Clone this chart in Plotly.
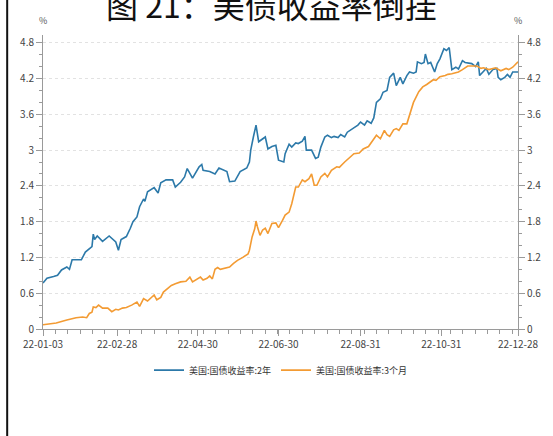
import plotly.graph_objects as go

# US Treasury yields, 2022 (%)
two_year_dates = [
    "2022-01-03", "2022-01-06", "2022-01-11", "2022-01-14", "2022-01-17", "2022-01-21", "2022-01-23",
    "2022-01-25", "2022-02-01", "2022-02-04", "2022-02-09", "2022-02-10", "2022-02-11", "2022-02-13",
    "2022-02-17", "2022-02-22", "2022-02-27", "2022-03-01", "2022-03-03", "2022-03-07", "2022-03-10",
    "2022-03-12", "2022-03-15", "2022-03-17", "2022-03-20", "2022-03-21", "2022-03-23", "2022-03-28",
    "2022-03-31", "2022-04-02", "2022-04-06", "2022-04-11", "2022-04-13", "2022-04-17", "2022-04-20",
    "2022-04-22", "2022-04-26", "2022-05-01", "2022-05-03", "2022-05-04", "2022-05-09", "2022-05-13",
    "2022-05-16", "2022-05-22", "2022-05-24", "2022-05-28", "2022-06-01", "2022-06-06", "2022-06-08",
    "2022-06-09", "2022-06-11", "2022-06-13", "2022-06-15", "2022-06-20", "2022-06-22", "2022-06-25",
    "2022-06-28", "2022-06-30", "2022-07-04", "2022-07-05", "2022-07-08", "2022-07-10", "2022-07-13",
    "2022-07-15", "2022-07-18", "2022-07-20", "2022-07-21", "2022-07-25", "2022-07-28", "2022-07-30",
    "2022-08-01", "2022-08-04", "2022-08-06", "2022-08-09", "2022-08-11", "2022-08-14", "2022-08-16",
    "2022-08-19", "2022-08-21", "2022-08-24", "2022-08-26", "2022-08-29", "2022-08-31", "2022-09-03",
    "2022-09-05", "2022-09-08", "2022-09-10", "2022-09-12", "2022-09-15", "2022-09-17", "2022-09-20",
    "2022-09-22", "2022-09-25", "2022-09-27", "2022-09-30", "2022-10-02", "2022-10-05", "2022-10-07",
    "2022-10-10", "2022-10-12", "2022-10-13", "2022-10-16", "2022-10-18", "2022-10-19", "2022-10-21",
    "2022-10-23", "2022-10-26", "2022-10-28", "2022-10-30", "2022-11-02", "2022-11-04", "2022-11-06",
    "2022-11-08", "2022-11-11", "2022-11-13", "2022-11-16", "2022-11-18", "2022-11-21", "2022-11-23",
    "2022-11-26", "2022-11-28", "2022-11-29", "2022-12-02", "2022-12-04", "2022-12-06", "2022-12-09",
    "2022-12-12", "2022-12-13", "2022-12-15", "2022-12-18", "2022-12-20", "2022-12-22", "2022-12-24",
    "2022-12-28",
]
two_year_values = [
    0.77, 0.85, 0.88, 0.90, 0.99, 1.04, 1.00,
    1.16, 1.16, 1.29, 1.38, 1.59, 1.50, 1.56,
    1.47, 1.56, 1.46, 1.32, 1.50, 1.55, 1.69,
    1.80, 1.88, 2.05, 2.18, 2.14, 2.30, 2.37,
    2.28, 2.45, 2.50, 2.50, 2.38, 2.46, 2.55,
    2.69, 2.53, 2.72, 2.76, 2.66, 2.64, 2.60,
    2.70, 2.64, 2.47, 2.48, 2.64, 2.70, 2.80,
    3.00, 3.22, 3.42, 3.14, 3.22, 3.02, 3.06,
    3.08, 2.83, 2.80, 2.94, 3.10, 3.05, 3.12,
    3.11, 3.15, 3.23, 3.00, 3.00, 2.86, 2.88,
    3.05, 3.22, 3.25, 3.21, 3.23, 3.21, 3.26,
    3.22, 3.30, 3.34, 3.38, 3.42, 3.47, 3.42,
    3.49, 3.45, 3.54, 3.80, 3.86, 3.97, 4.00,
    4.22, 4.29, 4.08, 4.22, 4.11, 4.25, 4.31,
    4.29, 4.31, 4.48, 4.45, 4.47, 4.61, 4.45,
    4.47, 4.31, 4.45, 4.53, 4.70, 4.67, 4.72,
    4.35, 4.39, 4.36, 4.50, 4.47, 4.46, 4.45,
    4.40, 4.48, 4.25, 4.33, 4.37, 4.27, 4.35,
    4.37, 4.22, 4.18, 4.22, 4.27, 4.22, 4.31,
    4.31,
]

three_month_dates = [
    "2022-01-03", "2022-01-08", "2022-01-13", "2022-01-21", "2022-01-28", "2022-02-02", "2022-02-05",
    "2022-02-07", "2022-02-09", "2022-02-10", "2022-02-12", "2022-02-14", "2022-02-17", "2022-02-21",
    "2022-02-24", "2022-02-27", "2022-03-01", "2022-03-04", "2022-03-07", "2022-03-11", "2022-03-15",
    "2022-03-17", "2022-03-20", "2022-03-23", "2022-03-26", "2022-03-28", "2022-03-30", "2022-04-02",
    "2022-04-04", "2022-04-07", "2022-04-10", "2022-04-13", "2022-04-17", "2022-04-21", "2022-04-24",
    "2022-04-26", "2022-04-28", "2022-05-01", "2022-05-02", "2022-05-04", "2022-05-07", "2022-05-09",
    "2022-05-11", "2022-05-13", "2022-05-15", "2022-05-17", "2022-05-21", "2022-05-24", "2022-05-27",
    "2022-05-30", "2022-06-03", "2022-06-07", "2022-06-08", "2022-06-10", "2022-06-12", "2022-06-13",
    "2022-06-14", "2022-06-16", "2022-06-18", "2022-06-20", "2022-06-22", "2022-06-25", "2022-06-28",
    "2022-06-30", "2022-07-03", "2022-07-05", "2022-07-08", "2022-07-10", "2022-07-13", "2022-07-15",
    "2022-07-18", "2022-07-20", "2022-07-23", "2022-07-25", "2022-07-27", "2022-07-29", "2022-08-01",
    "2022-08-04", "2022-08-06", "2022-08-09", "2022-08-13", "2022-08-15", "2022-08-19", "2022-08-22",
    "2022-08-26", "2022-08-30", "2022-09-02", "2022-09-06", "2022-09-10", "2022-09-12", "2022-09-15",
    "2022-09-18", "2022-09-20", "2022-09-22", "2022-09-25", "2022-09-27", "2022-09-29", "2022-10-02",
    "2022-10-05", "2022-10-07", "2022-10-10", "2022-10-14", "2022-10-17", "2022-10-20", "2022-10-23",
    "2022-10-25", "2022-10-27", "2022-10-30", "2022-11-03", "2022-11-05", "2022-11-08", "2022-11-10",
    "2022-11-13", "2022-11-16", "2022-11-20", "2022-11-24", "2022-11-27", "2022-11-30", "2022-12-02",
    "2022-12-06", "2022-12-11", "2022-12-15", "2022-12-19", "2022-12-21", "2022-12-24", "2022-12-28",
]
three_month_values = [
    0.07, 0.09, 0.10, 0.15, 0.19, 0.20, 0.19,
    0.26, 0.28, 0.37, 0.36, 0.40, 0.35, 0.35,
    0.29, 0.33, 0.32, 0.35, 0.36, 0.40, 0.45,
    0.38, 0.51, 0.47, 0.54, 0.57, 0.49, 0.53,
    0.62, 0.68, 0.73, 0.76, 0.79, 0.80, 0.87,
    0.79, 0.82, 0.85, 0.87, 0.82, 0.85, 0.89,
    0.84, 1.00, 1.03, 1.00, 1.02, 1.04, 1.10,
    1.15, 1.20, 1.26, 1.32, 1.54, 1.68, 1.81,
    1.72, 1.57, 1.66, 1.69, 1.60, 1.77, 1.78,
    1.70, 1.82, 1.91, 1.96, 2.10, 2.38, 2.38,
    2.50, 2.47, 2.52, 2.60, 2.41, 2.41, 2.55,
    2.61, 2.55, 2.66, 2.72, 2.71, 2.80, 2.86,
    2.94, 2.95, 3.02, 3.06, 3.19, 3.25, 3.19,
    3.33, 3.26, 3.23, 3.34, 3.36, 3.33, 3.44,
    3.44, 3.58, 3.80, 3.98, 4.06, 4.10, 4.14,
    4.18, 4.17, 4.23, 4.25, 4.27, 4.28, 4.29,
    4.31, 4.35, 4.41, 4.41, 4.41, 4.37, 4.38,
    4.35, 4.38, 4.33, 4.37, 4.35, 4.39, 4.48,
]

x_tick_dates = ["2022-01-03", "2022-02-28", "2022-04-30", "2022-06-30",
                "2022-08-31", "2022-10-31", "2022-12-28"]
x_tick_labels = ["22-01-03", "22-02-28", "22-04-30", "22-06-30",
                 "22-08-31", "22-10-31", "22-12-28"]
y_tick_values = [0, 0.6, 1.2, 1.8, 2.4, 3.0, 3.6, 4.2, 4.8]
y_tick_labels = ["0", "0.6", "1.2", "1.8", "2.4", "3", "3.6", "4.2", "4.8"]

series_names = ["美国:国债收益率:2年", "美国:国债收益率:3个月"]
title_text = "图 21：美债收益率倒挂"

BLUE = "#2c79a9"
ORANGE = "#f39b33"
FONT = "Noto Sans CJK SC"
AXIS_GRAY = "#9a9a9a"
LABEL_GRAY = "#444444"
Y_RANGE = [0, 4.93]

fig = go.Figure()
fig.add_trace(go.Scatter(
    x=two_year_dates, y=two_year_values, name=series_names[0],
    mode="lines", line=dict(color=BLUE, width=1.6), yaxis="y",
))
fig.add_trace(go.Scatter(
    x=three_month_dates, y=three_month_values, name=series_names[1],
    mode="lines", line=dict(color=ORANGE, width=1.6), yaxis="y2",
))

y_common = dict(
    range=Y_RANGE,
    tickmode="array", tickvals=y_tick_values, ticktext=y_tick_labels,
    ticks="outside", ticklen=6, tickwidth=1, tickcolor=AXIS_GRAY,
    showline=True, linecolor=AXIS_GRAY, linewidth=1,
    tickfont=dict(family=FONT, size=10, color=LABEL_GRAY),
    minor=dict(dtick=0.2, tick0=0, ticks="outside", ticklen=3,
               tickcolor=AXIS_GRAY, showgrid=False),
    zeroline=False, fixedrange=True,
)

fig.update_layout(
    width=553, height=436,
    margin=dict(l=43, r=26, t=35, b=107, pad=0),
    paper_bgcolor="white", plot_bgcolor="white",
    font=dict(family=FONT, color=LABEL_GRAY),
    showlegend=True,
    legend=dict(
        orientation="h", x=0.5, xanchor="center", y=-0.14, yanchor="middle",
        font=dict(family=FONT, size=9, color="#333333"),
        bgcolor="rgba(0,0,0,0)", itemwidth=30, tracegroupgap=0,
    ),
    xaxis=dict(
        type="date", range=["2022-01-03", "2022-12-28"],
        tickmode="array", tickvals=x_tick_dates, ticktext=x_tick_labels,
        ticks="outside", ticklen=6, tickcolor=AXIS_GRAY,
        showline=True, linecolor=AXIS_GRAY, linewidth=1,
        showgrid=False, zeroline=False,
        tickfont=dict(family=FONT, size=10, color=LABEL_GRAY),
        minor=dict(tick0="2022-01-03", dtick=806400000, ticks="outside",
                   ticklen=4, tickcolor=AXIS_GRAY, showgrid=False),
    ),
    yaxis=dict(
        side="left", showgrid=True, gridcolor="#e2e2e2", griddash="3px,3px",
        gridwidth=1, **y_common,
    ),
    yaxis2=dict(
        side="right", overlaying="y", showgrid=False, **y_common,
    ),
)

# Unit labels above both value axes
fig.add_annotation(text="%", xref="paper", yref="paper", x=0, y=1.051,
                   showarrow=False, xanchor="center", yanchor="middle",
                   font=dict(family=FONT, size=9, color="#555555"))
fig.add_annotation(text="%", xref="paper", yref="paper", x=1, y=1.051,
                   showarrow=False, xanchor="center", yanchor="middle",
                   font=dict(family=FONT, size=9, color="#555555"))

# Figure title
fig.add_annotation(text=title_text, xref="paper", yref="paper", x=0.481, y=1.105,
                   showarrow=False, xanchor="center", yanchor="middle",
                   font=dict(family=FONT, size=32, color="#111111"))

# Left frame rule
fig.add_shape(type="line", xref="paper", yref="paper",
              x0=-0.0754, x1=-0.0754, y0=-0.37, y1=1.13,
              line=dict(color="#111111", width=2))

fig.write_html("out.html")
